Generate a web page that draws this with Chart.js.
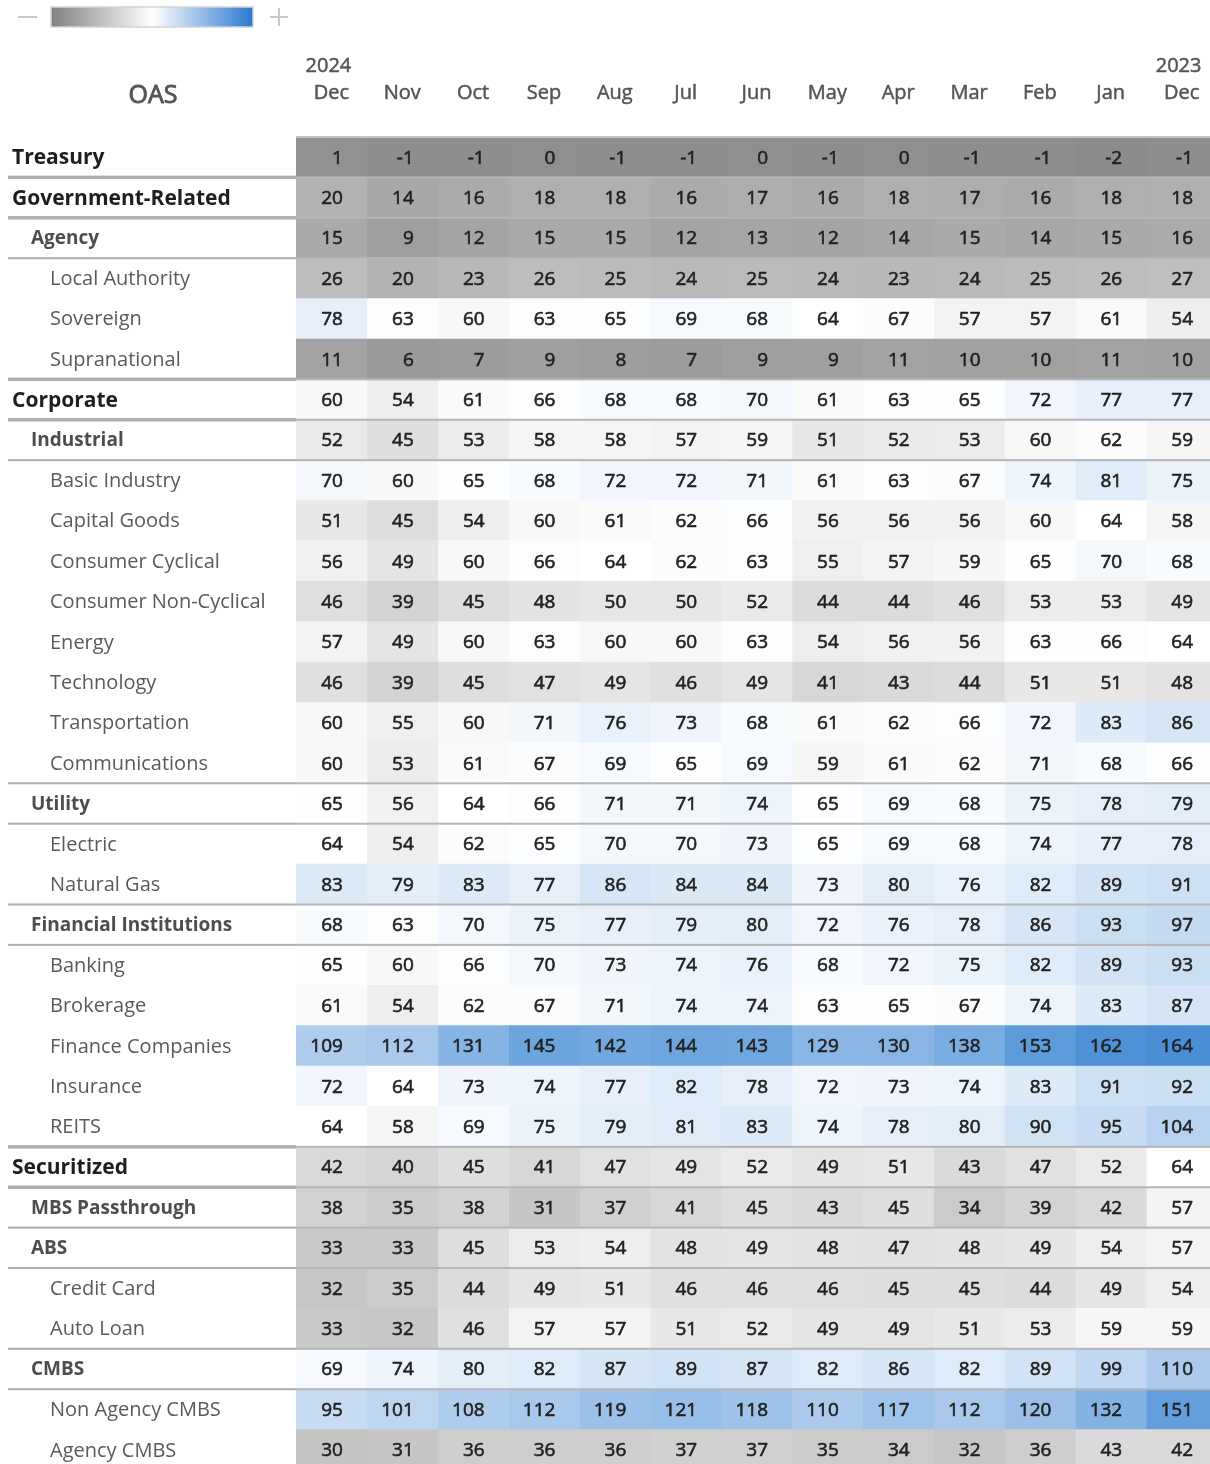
<!DOCTYPE html>
<html><head><meta charset="utf-8">
<script src="https://cdn.jsdelivr.net/npm/chart.js@4/dist/chart.umd.min.js"></script>
<style>
html,body{margin:0;padding:0;overflow:hidden;background:#fff;width:1210px;height:1464px}
#wrap{position:absolute;left:0;top:0;width:1218px;height:1472px}
canvas{display:block}
</style>
</head><body><div id="wrap"><canvas id="c" width="1218" height="1472"></canvas></div>
<script>
// ---------- DATA ----------
const monthLabels = ['Dec','Nov','Oct','Sep','Aug','Jul','Jun','May','Apr','Mar','Feb','Jan','Dec'];
const yearLabels  = ['2024','','','','','','','','','','','','2023'];
const tableTitle = 'OAS';
const rowLabels = ['Treasury','Government-Related','Agency','Local Authority','Sovereign','Supranational',
  'Corporate','Industrial','Basic Industry','Capital Goods','Consumer Cyclical','Consumer Non-Cyclical',
  'Energy','Technology','Transportation','Communications','Utility','Electric','Natural Gas',
  'Financial Institutions','Banking','Brokerage','Finance Companies','Insurance','REITS',
  'Securitized','MBS Passthrough','ABS','Credit Card','Auto Loan','CMBS','Non Agency CMBS','Agency CMBS'];
const rowLevels = [0,0,1,2,2,2, 0,1,2,2,2,2, 2,2,2,2,1,2,2, 1,2,2,2,2,2, 0,1,1,2,2,1,2,2];

const colDec24 = [1,20,15,26,78,11, 60,52,70,51,56,46, 57,46,60,60,65,64,83, 68,65,61,109,72,64, 42,38,33,32,33,69,95,30];
const colNov   = [-1,14,9,20,63,6, 54,45,60,45,49,39, 49,39,55,53,56,54,79, 63,60,54,112,64,58, 40,35,33,35,32,74,101,31];
const colOct   = [-1,16,12,23,60,7, 61,53,65,54,60,45, 60,45,60,61,64,62,83, 70,66,62,131,73,69, 45,38,45,44,46,80,108,36];
const colSep   = [0,18,15,26,63,9, 66,58,68,60,66,48, 63,47,71,67,66,65,77, 75,70,67,145,74,75, 41,31,53,49,57,82,112,36];
const colAug   = [-1,18,15,25,65,8, 68,58,72,61,64,50, 60,49,76,69,71,70,86, 77,73,71,142,77,79, 47,37,54,51,57,87,119,36];
const colJul   = [-1,16,12,24,69,7, 68,57,72,62,62,50, 60,46,73,65,71,70,84, 79,74,74,144,82,81, 49,41,48,46,51,89,121,37];
const colJun   = [0,17,13,25,68,9, 70,59,71,66,63,52, 63,49,68,69,74,73,84, 80,76,74,143,78,83, 52,45,49,46,52,87,118,37];
const colMay   = [-1,16,12,24,64,9, 61,51,61,56,55,44, 54,41,61,59,65,65,73, 72,68,63,129,72,74, 49,43,48,46,49,82,110,35];
const colApr   = [0,18,14,23,67,11, 63,52,63,56,57,44, 56,43,62,61,69,69,80, 76,72,65,130,73,78, 51,45,47,45,49,86,117,34];
const colMar   = [-1,17,15,24,57,10, 65,53,67,56,59,46, 56,44,66,62,68,68,76, 78,75,67,138,74,80, 43,34,48,45,51,82,112,32];
const colFeb   = [-1,16,14,25,57,10, 72,60,74,60,65,53, 63,51,72,71,75,74,82, 86,82,74,153,83,90, 47,39,49,44,53,89,120,36];
const colJan   = [-2,18,15,26,61,11, 77,62,81,64,70,53, 66,51,83,68,78,77,89, 93,89,83,162,91,95, 52,42,54,49,59,99,132,43];
const colDec23 = [-1,18,16,27,54,10, 77,59,75,58,68,49, 64,48,86,66,79,78,91, 97,93,87,164,92,104, 64,57,57,54,59,110,151,42];

const columns = [colDec24,colNov,colOct,colSep,colAug,colJul,colJun,colMay,colApr,colMar,colFeb,colJan,colDec23];

// ---------- COLOR SCALE ----------
const allVals = columns.flat();
const vMin = Math.min(...allVals), vMax = Math.max(...allVals), vMid = 64;
const lowRGB = [140,140,140], highRGB = [74,143,214];
function colorFor(v){
  let c;
  if (v <= vMid){ const t=(vMid-v)/(vMid-vMin); c = lowRGB.map(k=>Math.round(255+(k-255)*t)); }
  else { const t=(v-vMid)/(vMax-vMid); c = highRGB.map(k=>Math.round(255+(k-255)*t)); }
  return `rgb(${c[0]},${c[1]},${c[2]})`;
}

const FONT = '"Open Sans", "Noto Sans", sans-serif';

function medText(ctx, txt, x, y, color, sw){
  ctx.fillStyle = color; ctx.fillText(txt, x, y);
  if (sw){ ctx.strokeStyle = color; ctx.lineWidth = sw; ctx.lineJoin='round'; ctx.strokeText(txt, x, y); }
}

const tablePlugin = {
  id:'tablePlugin',
  afterDatasetsDraw(chart){
    const ctx = chart.ctx, xs = chart.scales.x, ys = chart.scales.y, ca = chart.chartArea;
    const rowY = i => ys.getPixelForValue(i);
    const colX = j => xs.getPixelForValue(j+0.5);
    ctx.save();
    // top border over cells
    ctx.fillStyle = '#c2c2c2';
    ctx.fillRect(ca.left, ca.top-1, ca.right-ca.left, 2);
    // separator lines
    for (let i=1;i<rowLabels.length;i++){
      const a=rowLevels[i-1], b=rowLevels[i];
      if (a>1 && b>1) continue;
      const y = (rowY(i-1)+rowY(i))/2;
      const thick = (a===0||b===0) ? 3.5 : 2;
      ctx.fillStyle = '#aeaeae';
      ctx.fillRect(8, y-thick/2, ca.left-8, thick);
      ctx.fillStyle = '#b6b6b6';
      ctx.fillRect(ca.left, y-1, ca.right-ca.left, 2);
    }
    // values
    ctx.textBaseline='middle';
    ctx.textAlign='right';
    ctx.font = '19px '+FONT;
    columns.forEach((vals,j)=>{
      vals.forEach((v,i)=>{ medText(ctx, String(v), colX(j)+11.5, rowY(i)+1, '#222', 0.6); });
    });
    // row labels
    ctx.textAlign='left';
    rowLabels.forEach((lab,i)=>{
      const lv=rowLevels[i], y=rowY(i)+1;
      if (lv===0){ ctx.font='bold 21px '+FONT; medText(ctx, lab, 12, y, '#1e1e1e', 0); }
      else if (lv===1){ ctx.font='bold 19px '+FONT; medText(ctx, lab, 31, y, '#4d4d4d', 0); }
      else { ctx.font='20px '+FONT; medText(ctx, lab, 50, y, '#5a5a5a', 0); }
    });
    // headers
    ctx.textAlign='center';
    ctx.font='20px '+FONT;
    monthLabels.forEach((m,j)=>{
      medText(ctx, m, colX(j), 93, '#555', 0.5);
      if (yearLabels[j]) medText(ctx, yearLabels[j], colX(j)-3, 66, '#555', 0.5);
    });
    ctx.font='25px '+FONT;
    medText(ctx, tableTitle, 153, 96, '#555', 0.9);
    // legend
    const g = ctx.createLinearGradient(51,0,253,0);
    g.addColorStop(0,'#808080'); g.addColorStop(0.5,'#ffffff'); g.addColorStop(1,'#2a78d0');
    ctx.fillStyle=g; ctx.fillRect(51,7,202,20);
    ctx.strokeStyle='#d4d4d4'; ctx.lineWidth=1.5; ctx.strokeRect(51,7,202,20);
    ctx.fillStyle='#c8c8c8';
    ctx.fillRect(18,16,19,2);
    ctx.fillRect(270,16,18,2); ctx.fillRect(278,8,2,18);
    ctx.restore();
  }
};

new Chart(document.getElementById('c'), {
  type:'bar',
  data:{
    labels: rowLabels,
    datasets: columns.map((vals,j)=>({
      label: monthLabels[j] + (yearLabels[j] ? ' '+yearLabels[j] : ''),
      data: vals.map(()=>[j, j+1]),
      backgroundColor: vals.map(colorFor),
      borderWidth: 0,
      grouped: false,
      barPercentage: 1,
      categoryPercentage: 1
    }))
  },
  options:{
    indexAxis:'y',
    responsive:false,
    animation:false,
    devicePixelRatio:1,
    layout:{padding:{left:296, top:137, right:1, bottom:2}},
    scales:{
      x:{type:'linear', min:0, max:13, display:false},
      y:{type:'category', display:false}
    },
    plugins:{legend:{display:false}, tooltip:{enabled:false}}
  },
  plugins:[tablePlugin]
});
</script>
</body></html>
